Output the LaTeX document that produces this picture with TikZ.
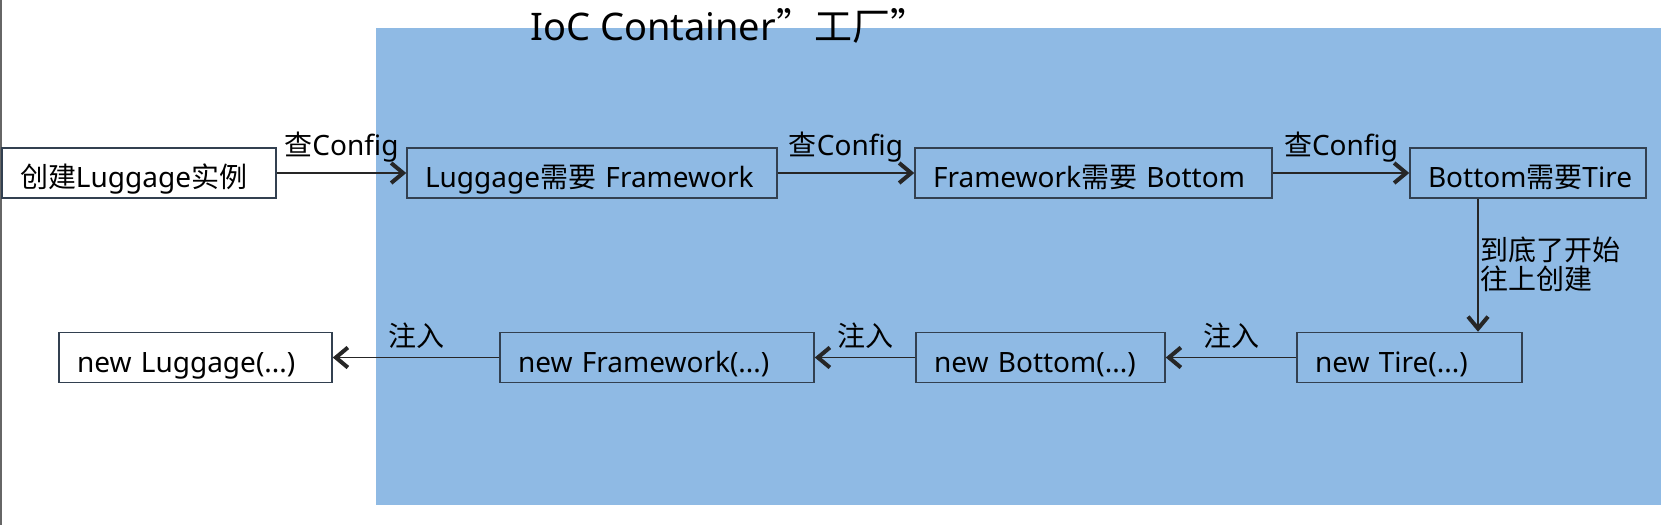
\documentclass[tikz,border=0pt]{standalone}
\usepackage{fontspec}
\setmainfont{Noto Sans}
\newfontfamily\zh{Noto Sans CJK SC}
\usetikzlibrary{arrows.meta}
\definecolor{iocblue}{RGB}{143,186,228}
\definecolor{edgegray}{RGB}{50,64,80}

\begin{document}
\begin{tikzpicture}[x=0.5pt,y=-0.5pt,
    box/.style={draw=edgegray,line width=0.75pt,minimum height=25pt,inner xsep=9pt,inner ysep=0pt,text height=15pt,text depth=0.5pt,align=left,font=\fontsize{14}{16}\selectfont},
    flow/.style={draw=black!85,line width=0.9pt,-{Straight Barb[length=6pt,width=10pt,line width=2pt]}},
    note/.style={inner sep=0pt,font=\fontsize{14}{14.5}\selectfont}]
    \useasboundingbox (0,0) rectangle (1661,525);
    % container
    \fill[iocblue] (376,28) rectangle (1661,505);
    \draw[black!60,line width=1pt] (1,0)--(1,525);
    \node[inner sep=0pt,anchor=base west,font=\fontsize{19}{21}\selectfont] (title) at (530,40) {IoC Container{\zh ”工厂”}};
    % looking up
    \node[box,fill=white,text width=119pt] (create) at (139,173) {{\zh 创建}Luggage{\zh 实例}};
    \node[box,text width=167pt] (needfw) at (592,173) {Luggage{\zh 需要} Framework};
    \node[box,text width=160.5pt] (needbt) at (1093.5,173) {Framework{\zh 需要} Bottom};
    \node[box,text width=100pt] (needtr) at (1528,173) {Bottom{\zh 需要}Tire};
    \draw[flow] (create) -- node[note,above,yshift=5pt]{{\zh 查}Config} (needfw);
    \draw[flow] (needfw) -- node[note,above,yshift=5pt]{{\zh 查}Config} (needbt);
    \draw[flow] (needbt) -- node[note,above,yshift=5pt]{{\zh 查}Config} (needtr);
    % building back up
    \node[box,text width=94.5pt] (newtr) at (1409.5,357.5) {new Tire(...)};
    \node[box,text width=106.5pt] (newbt) at (1040.5,357.5) {new Bottom(...)};
    \node[box,text width=139pt] (newfw) at (657,357.5) {new Framework(...)};
    \node[box,fill=white,text width=118.5pt] (newlg) at (195.5,357.5) {new Luggage(...)};
    \coordinate (drop) at (1478,0);
    \draw[flow] (needtr.south -| drop) -- (newtr.north -| drop);
    \node[note,anchor=north west,align=left,font=\zh\fontsize{14}{14.5}\selectfont] (turn) at (1480,236) {到底了开始\\往上创建};
    \draw[flow] (newtr) -- node[note,above,yshift=4pt]{\zh 注入} (newbt);
    \draw[flow] (newbt) -- node[note,above,yshift=4pt]{\zh 注入} (newfw);
    \draw[flow] (newfw) -- node[note,above,yshift=4pt]{\zh 注入} (newlg);
\end{tikzpicture}
\end{document}
